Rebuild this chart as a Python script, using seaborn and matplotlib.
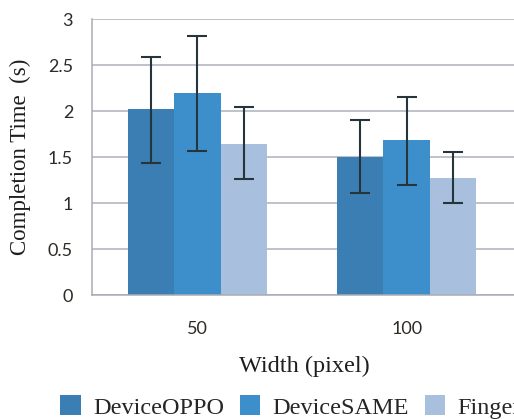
import matplotlib
matplotlib.use("Agg")
import matplotlib.pyplot as plt
import seaborn as sns
import pandas as pd
import numpy as np

widths = ["50", "100"]
devices = ["DeviceOPPO", "DeviceSAME", "Finger"]
means = {
    "DeviceOPPO": [2.02, 1.50],
    "DeviceSAME": [2.20, 1.68],
    "Finger": [1.645, 1.275],
}
err_low = {
    "DeviceOPPO": [1.44, 1.105],
    "DeviceSAME": [1.565, 1.20],
    "Finger": [1.26, 1.00],
}
err_high = {
    "DeviceOPPO": [2.59, 1.90],
    "DeviceSAME": [2.81, 2.155],
    "Finger": [2.04, 1.55],
}
yticks = [0, 0.5, 1, 1.5, 2, 2.5, 3]
ytick_labels = ["0", "0.5", "1", "1.5", "2", "2.5", "3"]
colors = ["#3A7EB3", "#3D8FCC", "#A8BFDD"]

rows = []
for d in devices:
    for w, m in zip(widths, means[d]):
        rows.append({"width": w, "time": m, "device": d})
df = pd.DataFrame(rows)

sns.set_theme(style="white")
plt.rcParams["font.family"] = ["Lato", "DejaVu Sans"]

fig = plt.figure(figsize=(5.14, 4.19), dpi=100)
ax = fig.add_axes([92 / 514, 1 - 295 / 419, 425 / 514, 276 / 419])

sns.barplot(data=df, x="width", y="time", hue="device", order=widths,
            hue_order=devices, palette=colors, errorbar=None, width=0.666,
            gap=0, saturation=1, linewidth=0, edgecolor="none", ax=ax, zorder=2)

for cont, d in zip(ax.containers, devices):
    xs = [b.get_x() + b.get_width() / 2 for b in cont]
    m = np.array(means[d])
    lo = m - np.array(err_low[d])
    hi = np.array(err_high[d]) - m
    ax.errorbar(xs, m, yerr=[lo, hi], fmt="none", ecolor="#26343C",
                elinewidth=1.5, capsize=7, capthick=1.5, zorder=3)

ax.set_ylim(0, 3)
ax.set_xlim(-0.503, 1.527)
ax.set_yticks(yticks)
ax.set_yticklabels(ytick_labels)
ax.yaxis.grid(True, color="#AEB2BA", linewidth=1.1, zorder=0)
ax.set_axisbelow(True)
for s in ["top", "right"]:
    ax.spines[s].set_visible(False)
for s in ["left", "bottom"]:
    ax.spines[s].set_color("#A8ACB2")
    ax.spines[s].set_linewidth(1.1)

ax.tick_params(axis="y", length=3.6, width=1.1, color="#AEB2BA", pad=10,
               labelsize=13, labelcolor="#2E2A26")
ax.tick_params(axis="x", length=0, pad=19, labelsize=13, labelcolor="#2E2A26")

ax.set_ylabel("Completion Time  (s)", family=["Liberation Serif"], fontsize=16.5,
              color="#1E1E1E", labelpad=12)
ax.set_xlabel("Width (pixel)", family=["Liberation Serif"], fontsize=17.5,
              color="#1E1E1E", labelpad=13)

handles, labels = ax.get_legend_handles_labels()
if ax.get_legend() is not None:
    ax.get_legend().remove()
fig.legend(handles, labels, loc="center left",
           bbox_to_anchor=(60 / 514, 1 - 407 / 419), ncol=3, frameon=False,
           prop={"family": "Liberation Serif", "size": 17.5},
           handlelength=0.85, handleheight=0.85, handletextpad=0.5,
           columnspacing=0.65, borderpad=0, borderaxespad=0)

fig.savefig("out.png", dpi=100)
